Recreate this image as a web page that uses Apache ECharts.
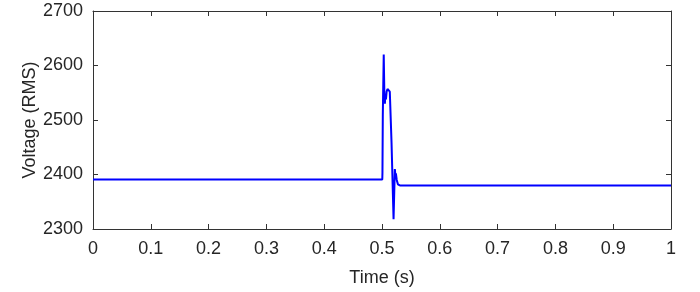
<!DOCTYPE html>
<html>
<head>
<meta charset="utf-8">
<script src="https://cdn.jsdelivr.net/npm/echarts@6/dist/echarts.min.js"></script>
<style>
html,body{margin:0;padding:0;background:#fff;}
#chart{width:700px;height:292px;}
</style>
</head>
<body>
<div id="chart"></div>
<script>
// Time (s)
var time = [0, 0.5005, 0.5008, 0.5012, 0.5014, 0.5025, 0.5030, 0.5038, 0.5042, 0.5050, 0.5058, 0.5068, 0.5080, 0.5095, 0.5110, 0.5135, 0.5155, 0.5165, 0.5190, 0.5200, 0.5212, 0.5222, 0.5232, 0.5240, 0.5255, 0.5275, 0.5310, 1.0];
// Voltage (RMS)
var voltage = [2391, 2391, 2404, 2404, 2510, 2512, 2620, 2618, 2540, 2530, 2548, 2538, 2552, 2557, 2556, 2552, 2550, 2458, 2456, 2318, 2318, 2410, 2398, 2402, 2390, 2382, 2380, 2380];
var xTicks = [0, 0.1, 0.2, 0.3, 0.4, 0.5, 0.6, 0.7, 0.8, 0.9, 1];
var yTicks = [2300, 2400, 2500, 2600, 2700];

var pts = time.map(function (t, i) { return [t, voltage[i]]; });
var font = 'Liberation Sans';
var txt = '#262626';
var axCol = '#333333';

var chart = echarts.init(document.getElementById('chart'));
var common = {
  axisLine: { show: true, onZero: false, lineStyle: { color: axCol, width: 1 } },
  axisTick: { show: true, inside: true, length: 5, lineStyle: { color: axCol } },
  splitLine: { show: false }
};
chart.setOption({
  animation: false,
  grid: { left: 93, right: 29, top: 11, bottom: 62 },
  xAxis: [
    Object.assign({
      type: 'value', min: xTicks[0], max: xTicks[xTicks.length - 1], interval: 0.1,
      name: 'Time (s)', nameLocation: 'middle', nameGap: 40,
      nameTextStyle: { fontFamily: font, fontSize: 18, color: txt },
      axisLabel: { fontFamily: font, fontSize: 18, color: txt, margin: 11,
        formatter: function (v) { return String(Math.round(v * 10) / 10); } }
    }, common),
    Object.assign({
      type: 'value', position: 'top', min: 0, max: 1, interval: 0.1,
      axisLabel: { show: false }
    }, common)
  ],
  yAxis: [
    Object.assign({
      type: 'value', min: yTicks[0], max: yTicks[yTicks.length - 1], interval: 100,
      name: 'Voltage (RMS)', nameLocation: 'middle', nameGap: 54, nameMoveOverlap: false,
      nameTextStyle: { fontFamily: font, fontSize: 18, color: txt },
      axisLabel: { fontFamily: font, fontSize: 18, color: txt, margin: 10,
        formatter: function (v) { return String(v); } }
    }, common),
    Object.assign({
      type: 'value', position: 'right', min: 2300, max: 2700, interval: 100,
      axisLabel: { show: false }
    }, common)
  ],
  series: [{
    type: 'line',
    data: pts,
    showSymbol: false,
    symbol: 'none',
    lineStyle: { color: '#0000ff', width: 2 },
    xAxisIndex: 0, yAxisIndex: 0
  }]
});
</script>
</body>
</html>
